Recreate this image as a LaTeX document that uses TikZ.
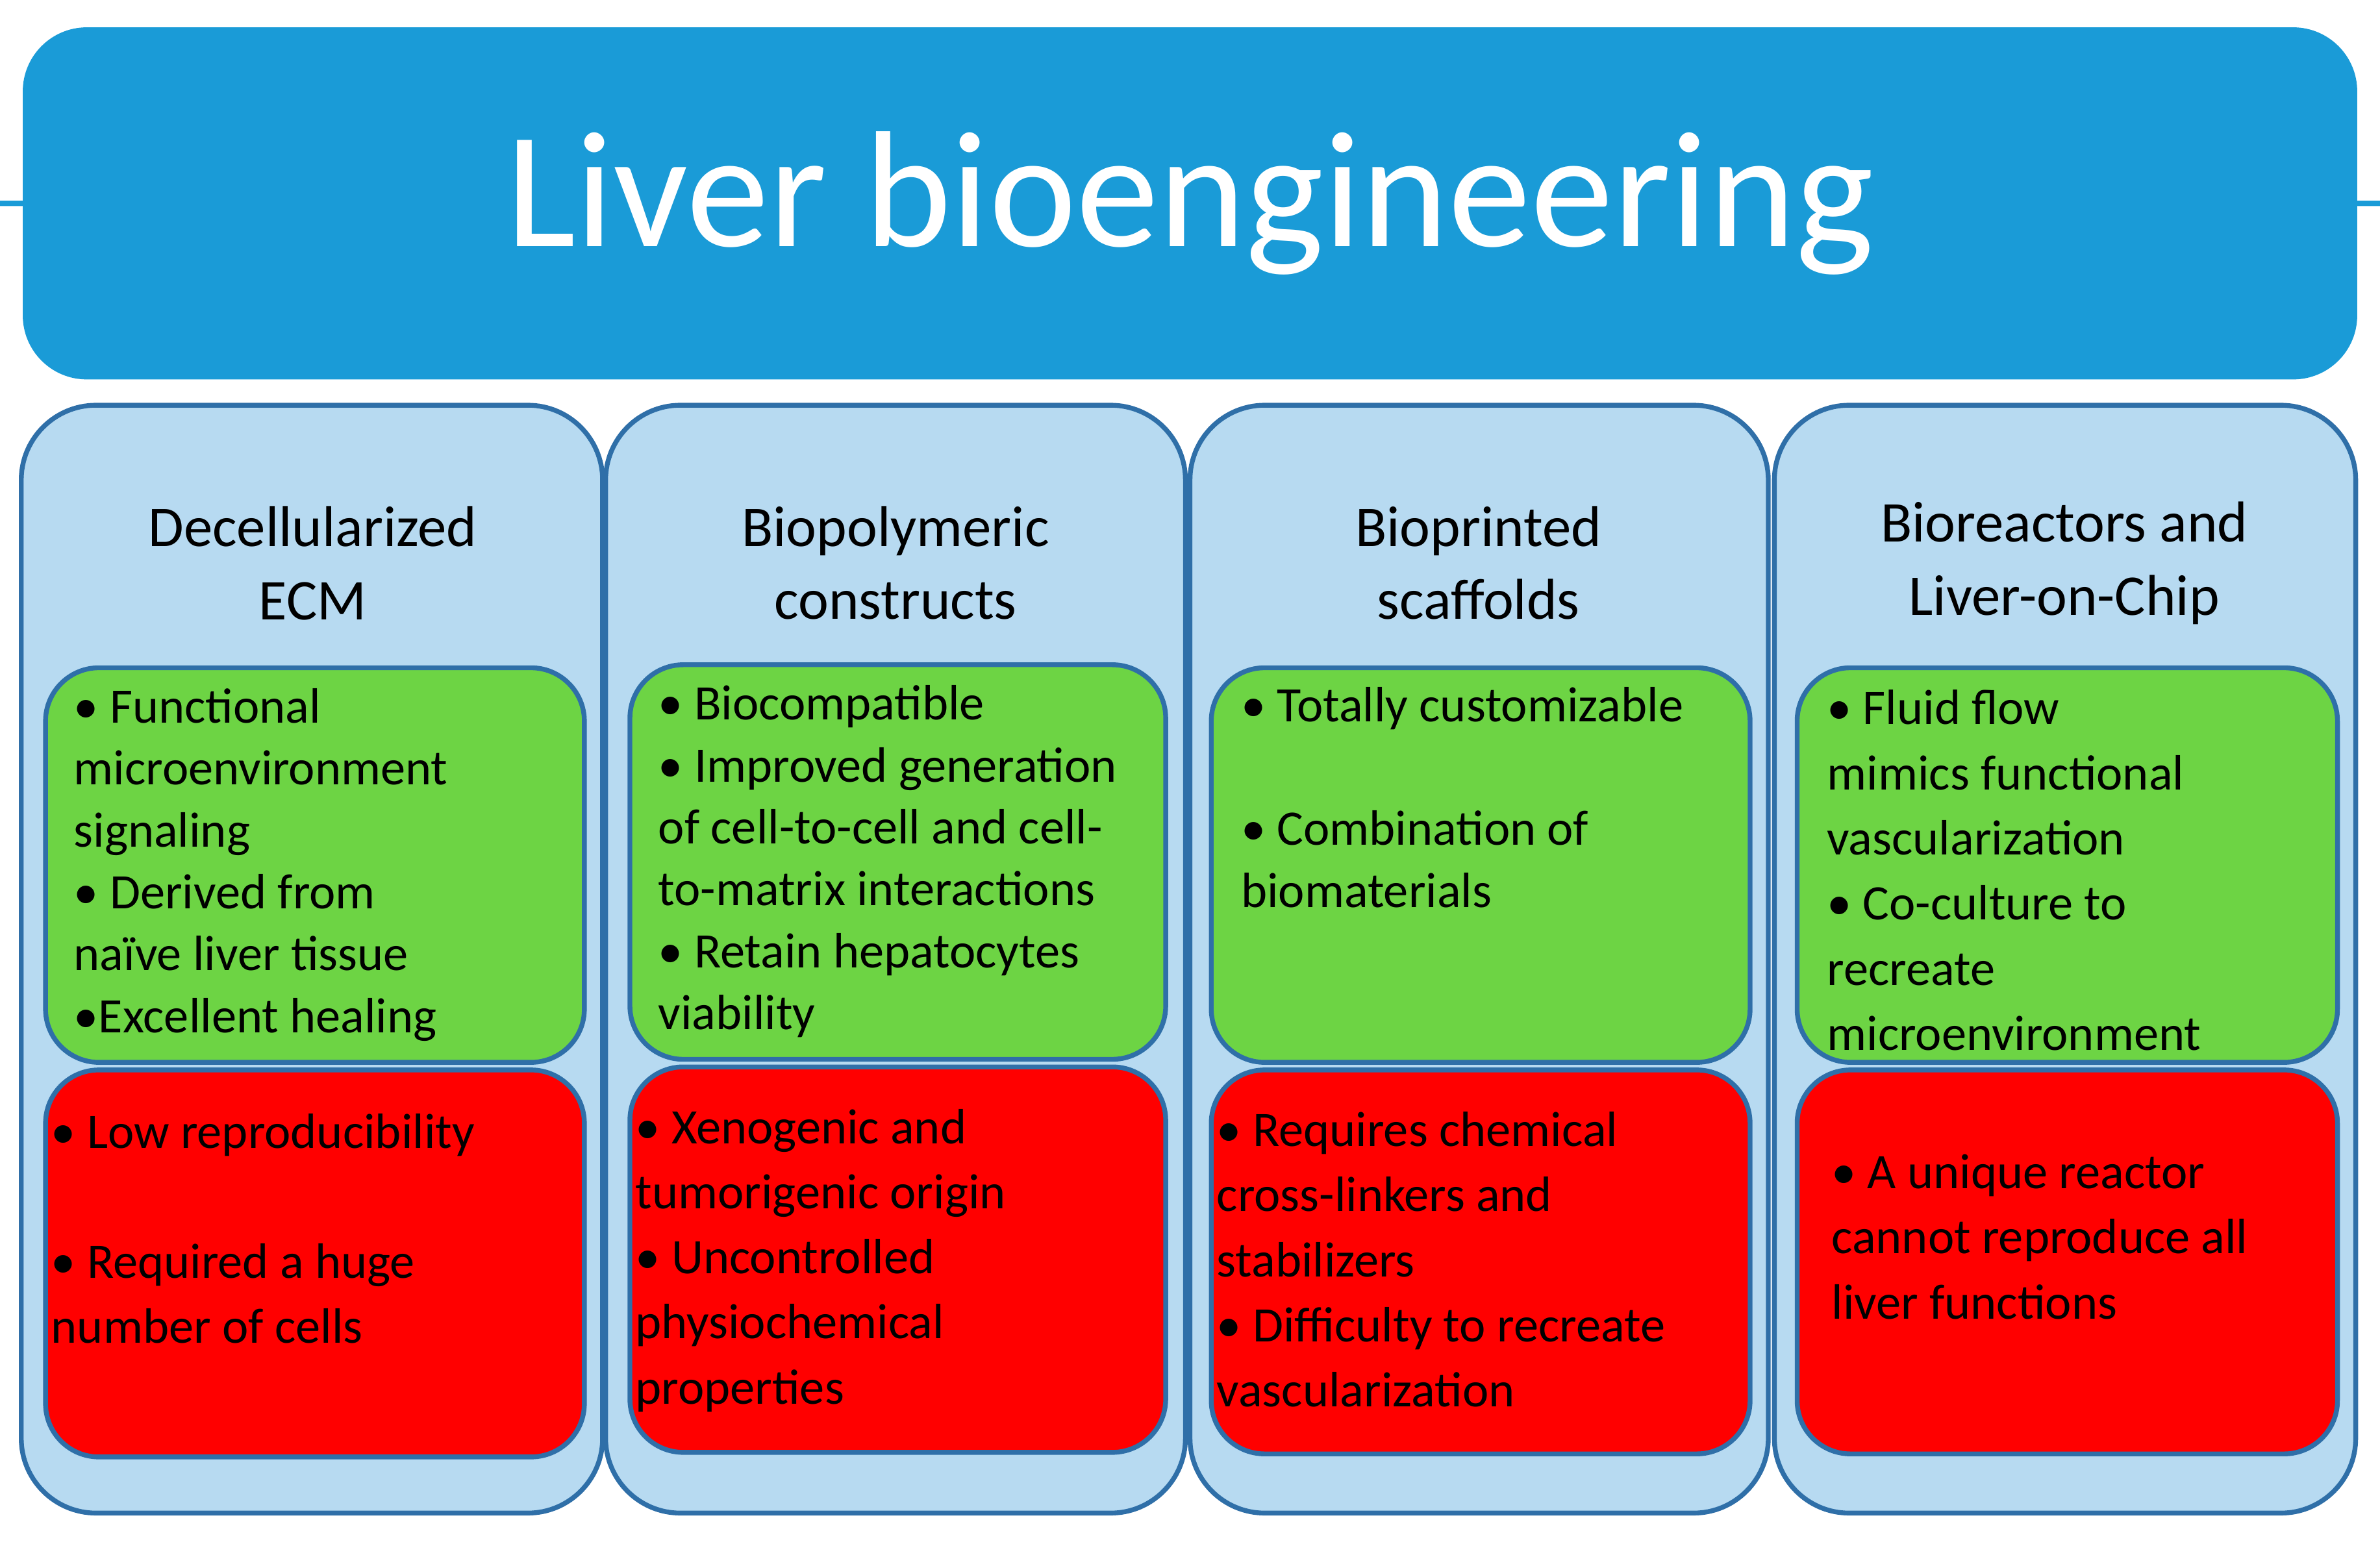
\documentclass[tikz,border=0pt]{standalone}
\usepackage{fontspec}
\setmainfont{Carlito}
\begin{document}
\begin{tikzpicture}[x=0.01cm,y=-0.01cm,
 col/.style={draw=edge,fill=colfill,line width=0.9pt,rounded corners=14pt},
 good/.style={draw=edge,fill=goodfill,line width=0.9pt,rounded corners=10pt},
 bad/.style={draw=edge,fill=badfill,line width=0.9pt,rounded corners=10pt},
 head/.style={align=center,font=\fontsize{10.8}{13.7}\selectfont},
 txt/.style={anchor=north west,inner sep=0pt,align=left,font=\fontsize{9.3}{11.6}\selectfont},
 rtxt/.style={anchor=north west,inner sep=0pt,align=left,font=\fontsize{9.3}{12.2}\selectfont}]
\definecolor{edge}{HTML}{2F6FA8}
\definecolor{colfill}{HTML}{B7DAF1}
\definecolor{goodfill}{HTML}{6DD444}
\definecolor{badfill}{HTML}{FF0000}
\definecolor{titlefill}{HTML}{1A9BD7}
\useasboundingbox (0,0) rectangle (1568,1017);
\node[draw=none,fill=titlefill,rounded corners=12pt,minimum width=1538\pgflinewidth,inner sep=0pt] (title) at (784,134) {};
\fill[titlefill,rounded corners=12pt] (15,18) rectangle (1553,250);
\node[text=white,font=\fontsize{31}{36}\selectfont] (tt) at (784,134) {Liver bioengineering};
% columns
\draw[col] (14,267) rectangle (397,997);
\draw[col] (399,267) rectangle (781,997);
\draw[col] (784,267) rectangle (1165,997);
\draw[col] (1169,267) rectangle (1552,997);
\node[head] (h1) at (206,371) {Decellularized\\ECM};
\node[head] (h2) at (590,371) {Biopolymeric\\constructs};
\node[head] (h3) at (974,371) {Bioprinted\\scaffolds};
\node[head] (h4) at (1360,371) {Bioreactors and\\Liver-on-Chip};
% boxes
\draw[good] (30,440) rectangle (385,700);
\draw[good] (415,438) rectangle (768,698);
\draw[good] (798,440) rectangle (1153,700);
\draw[good] (1184,440) rectangle (1540,700);
\draw[bad] (30,705) rectangle (385,960);
\draw[bad] (415,703) rectangle (768,957);
\draw[bad] (798,705) rectangle (1153,958);
\draw[bad] (1184,705) rectangle (1540,958);
% texts
\node[txt] (g1) at (48,453) {• Functional\\microenvironment\\signaling\\• Derived from\\naïve liver tissue\\•Excellent healing};
\node[txt] (g2) at (433,451) {• Biocompatible\\• Improved generation\\of cell-to-cell and cell-\\to-matrix interactions\\• Retain hepatocytes\\viability};
\node[txt] (g3) at (817,452) {• Totally customizable\\[11.6pt]• Combination of\\biomaterials};
\node[txt,font=\fontsize{9.3}{12.2}\selectfont] (g4) at (1203,454) {• Fluid flow\\mimics functional\\vascularization\\• Co-culture to\\recreate\\microenvironment};
\node[rtxt] (r1) at (33,733) {• Low reproducibility\\[12.2pt]• Required a huge\\number of cells};
\node[rtxt] (r2) at (418,730) {• Xenogenic and\\tumorigenic origin\\• Uncontrolled\\physiochemical\\properties};
\node[rtxt] (r3) at (801,732) {• Requires chemical\\cross-linkers and\\stabilizers\\• Difficulty to recreate\\vascularization};
\node[rtxt] (r4) at (1206,760) {• A unique reactor\\cannot reproduce all\\liver functions};
\end{tikzpicture}
\end{document}
